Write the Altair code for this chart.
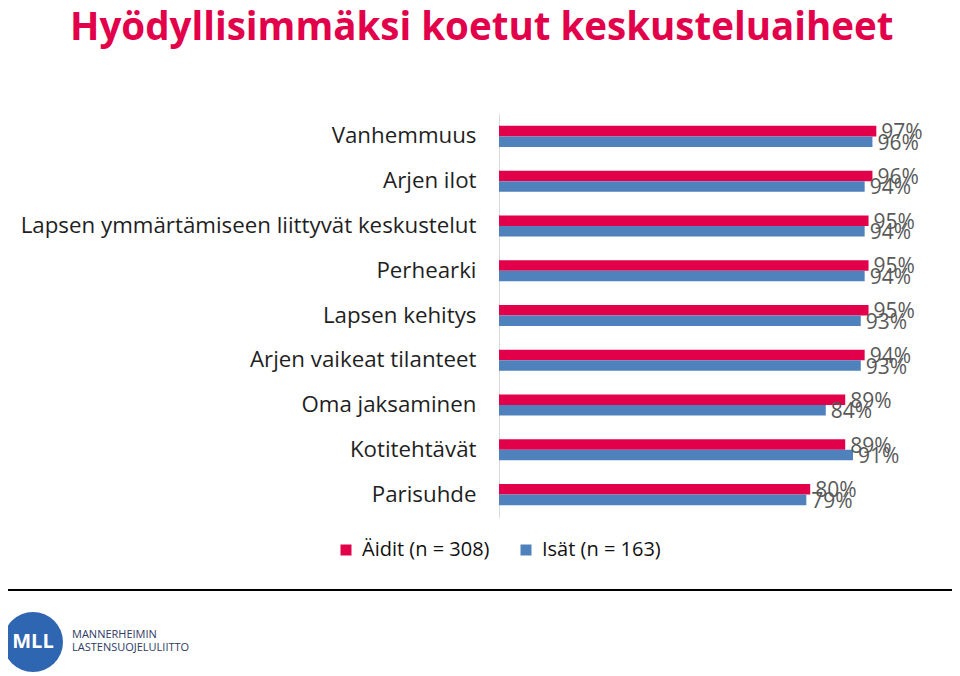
import altair as alt
import pandas as pd

TITLE = "Hyödyllisimmäksi koetut keskusteluaiheet"
categories = [
    "Vanhemmuus",
    "Arjen ilot",
    "Lapsen ymmärtämiseen liittyvät keskustelut",
    "Perhearki",
    "Lapsen kehitys",
    "Arjen vaikeat tilanteet",
    "Oma jaksaminen",
    "Kotitehtävät",
    "Parisuhde",
]
aidit = [97, 96, 95, 95, 95, 94, 89, 89, 80]
isat = [96, 94, 94, 94, 93, 93, 84, 91, 79]
series = ["Äidit (n = 308)", "Isät (n = 163)"]
colors = ["#E2004A", "#4F81BD"]
logo_mark = ["MLL"]
logo_lines = ["MANNERHEIMIN", "LASTENSUOJELULIITTO"]

rows = []
for c, a, i in zip(categories, aidit, isat):
    rows.append({"category": c, "series": series[0], "value": a, "label": f"{a}%"})
    rows.append({"category": c, "series": series[1], "value": i, "label": f"{i}%"})
df = pd.DataFrame(rows)

FONT = "Open Sans"

y = alt.Y(
    "category:N",
    sort=categories,
    scale=alt.Scale(paddingInner=0.53, paddingOuter=0.265),
    axis=alt.Axis(
        title=None, ticks=False, tickSize=0, labelPadding=23, labelFont=FONT,
        labelFontSize=22.3, labelColor="#1F1F1F", domainColor="#D9D9D9",
        labelLimit=0, grid=False,
    ),
)
yoff = alt.YOffset("series:N", sort=series, scale=alt.Scale(domain=series, paddingInner=0, paddingOuter=0))
x = alt.X("value:Q", scale=alt.Scale(domain=[0, 100], nice=False, zero=True), axis=None)
color = alt.Color(
    "series:N",
    sort=series,
    scale=alt.Scale(domain=series, range=colors),
    legend=alt.Legend(
        title=None, orient="none", legendX=-163, legendY=426, direction="horizontal",
        symbolType="square", symbolSize=121, symbolStrokeWidth=0, labelFont=FONT,
        labelFontSize=20, labelColor="#111111", columnPadding=26, labelOffset=6, padding=0,
    ),
)

base = alt.Chart(df)
bars = base.mark_bar().encode(x=x, y=y, yOffset=yoff, color=color)
labels = base.mark_text(
    align="left", baseline="middle", dx=5, dy=2, font=FONT, fontSize=21, color="#595959"
).encode(x=x, y=y, yOffset=yoff, text="label:N")

one = pd.DataFrame({"k": [0]})
line = alt.Chart(one).mark_rule(color="black", strokeWidth=2).encode(
    x=alt.value(-492), x2=alt.value(461), y=alt.value(476)
)
circle = alt.Chart(one).mark_point(shape="circle", filled=True, size=3600, color="#2E66B1", opacity=1).encode(
    x=alt.value(-466), y=alt.value(528)
)
mll = alt.Chart(pd.DataFrame({"t": logo_mark})).mark_text(
    font=FONT, fontWeight="bold", fontSize=20, color="white", baseline="middle"
).encode(x=alt.value(-466), y=alt.value(528), text="t:N")
logo_txt1 = alt.Chart(pd.DataFrame({"t": logo_lines[:1]})).mark_text(
    font=FONT, fontSize=11, color="#2D3A64", align="left", baseline="middle"
).encode(x=alt.value(-427), y=alt.value(521), text="t:N")
logo_txt2 = alt.Chart(pd.DataFrame({"t": logo_lines[1:]})).mark_text(
    font=FONT, fontSize=11, color="#2D3A64", align="left", baseline="middle"
).encode(x=alt.value(-427), y=alt.value(534), text="t:N")

chart = alt.layer(bars, labels, line, circle, mll, logo_txt1, logo_txt2).properties(
    width=389,
    height=403,
    autosize=alt.AutoSizeParams(type="none"),
    padding={"left": 491, "top": 106, "right": 64, "bottom": 155},
    title=alt.TitleParams(
        text=TITLE, anchor="start", frame="group", dx=-429, offset=66,
        font=FONT, fontSize=38.5, fontWeight="bold", color="#E2004A",
    ),
).configure_view(stroke=None)

chart.save("out.html", embed_options={"renderer": "svg", "actions": False})
